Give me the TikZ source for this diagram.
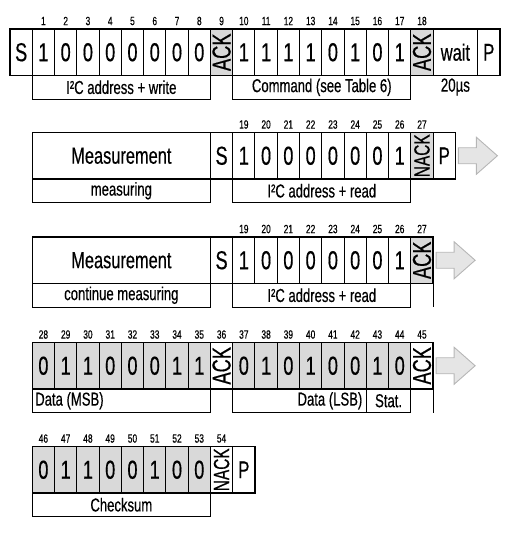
\documentclass[tikz,border=0pt]{standalone}
\usepackage{fontspec}
\setmainfont[FakeStretch=0.7, FakeBold=0.4]{Liberation Sans}

\definecolor{cellgray}{RGB}{217,217,217}
\definecolor{arrowfill}{RGB}{229,229,229}
\definecolor{arrowline}{RGB}{182,182,182}

\tikzset{
  cell/.style={draw, line width=1pt, minimum width=22.27pt, minimum height=46.5pt,
    anchor=north west, inner sep=0pt, outer sep=0pt, font=\fontsize{26}{26}\selectfont},
  shaded/.style={cell, fill=cellgray},
  bitnum/.style={inner sep=0pt, font=\fontsize{12}{12}\selectfont},
  field/.style={draw, line width=1pt, minimum height=23.5pt, minimum width=178.16pt,
    anchor=north west, inner sep=0pt, outer sep=0pt, font=\fontsize{18.7}{18.7}\selectfont},
  frame/.style={line width=1.5pt},
  flowarrow/.style={fill=arrowfill, draw=arrowline, line width=0.9pt}
}

\begin{document}
\begin{tikzpicture}[x=1pt, y=-1pt]
        \useasboundingbox (0,0) rectangle (530,539);
        % write: start, address, command
        \node [cell] (s1) at (10,29) {S};
        \foreach \d [count=\i] in {1,0,0,0,0,0,0,0}
          \node [cell] (a\i) at ({10+22.27*\i},29) {\d};
        \node [shaded] (a9) at (210.43,29) {\rotatebox{90}{ACK}};
        \foreach \d [count=\i from 10] in {1,1,1,1,0,1,0,1}
          \node [cell] (a\i) at ({10+22.27*\i},29) {\d};
        \node [shaded] (a18) at (410.86,29) {\rotatebox{90}{ACK}};
        \node [cell, minimum width=44.54pt, font=\fontsize{23.5}{23.5}\selectfont] (wait) at (433.13,29) {wait};
        \node [cell, font=\fontsize{24}{24}\selectfont] (p1) at (477.67,29) {P};
        \foreach \i in {1,...,18}
          \node [bitnum] (na\i) at ({21.135+22.27*\i},21) {\i};
        \draw [frame] (s1.north west) rectangle (p1.south east);
        \node [field] (addrw) at (a1.south west) {I²C address + write};
        \node [field] (cmd) at (a10.south west) {Command (see Table 6)};
        \node [font=\fontsize{19}{19}\selectfont] (dur) at (455.4,87) {20µs};

        % read header, NACK, stop
        \node [cell, minimum width=178.16pt, font=\fontsize{23.4}{23.4}\selectfont] (meas1) at (32.27,132.5) {Measurement};
        \node [cell] (s2) at (210.43,132.5) {S};
        \foreach \d [count=\i from 10] in {1,0,0,0,0,0,0,1}
          \node [cell] (b\i) at ({10+22.27*\i},132.5) {\d};
        \node [shaded, font=\fontsize{22}{22}\selectfont] (b18) at (410.86,132.5) {\rotatebox{90}{NACK}};
        \node [cell, font=\fontsize{24}{24}\selectfont] (p2) at (433.13,132.5) {P};
        \foreach \n [count=\i from 10] in {19,...,27}
          \node [bitnum] (nb\n) at ({21.135+22.27*\i},124.5) {\n};
        \draw [frame] (meas1.north west) rectangle (p2.south east);
        \node [field] (meas1lbl) at (meas1.south west) {measuring};
        \node [field] (addrr1) at (b10.south west) {I²C address + read};
        \filldraw [flowarrow] ([xshift=3pt]p2.east) ++(0,-8) -- ++(18,0) -- ++(0,-10.5)
          -- ++(21,18.5) -- ++(-21,18.5) -- ++(0,-10.5) -- ++(-18,0) -- cycle;

        % read header, ACK
        \node [cell, minimum width=178.16pt, font=\fontsize{23.4}{23.4}\selectfont] (meas2) at (32.27,237) {Measurement};
        \node [cell] (s3) at (210.43,237) {S};
        \foreach \d [count=\i from 10] in {1,0,0,0,0,0,0,1}
          \node [cell] (c\i) at ({10+22.27*\i},237) {\d};
        \node [shaded] (c18) at (410.86,237) {\rotatebox{90}{ACK}};
        \foreach \n [count=\i from 10] in {19,...,27}
          \node [bitnum] (nc\n) at ({21.135+22.27*\i},229) {\n};
        \draw [frame] (meas2.north west) rectangle (c18.south east);
        \node [field] (meas2lbl) at (meas2.south west) {continue measuring};
        \node [field] (addrr2) at (c10.south west) {I²C address + read};
        \draw [line width=1pt] (c18.south east) -- ++(0,23.5);
        \filldraw [flowarrow] ([xshift=3pt]c18.east) ++(0,-8) -- ++(18,0) -- ++(0,-10.5)
          -- ++(21,18.5) -- ++(-21,18.5) -- ++(0,-10.5) -- ++(-18,0) -- cycle;

        % data bytes
        \foreach \d [count=\i] in {0,1,1,0,0,0,1,1}
          \node [shaded] (d\i) at ({10+22.27*\i},342.5) {\d};
        \node [cell] (d9) at (210.43,342.5) {\rotatebox{90}{ACK}};
        \foreach \d [count=\i from 10] in {0,1,0,1,0,0,1,0}
          \node [shaded] (d\i) at ({10+22.27*\i},342.5) {\d};
        \node [cell] (d18) at (410.86,342.5) {\rotatebox{90}{ACK}};
        \foreach \n [count=\i] in {28,...,45}
          \node [bitnum] (nd\n) at ({21.135+22.27*\i},334.5) {\n};
        \draw [frame] (d1.north west) rectangle (d18.south east);
        \node [field, inner xsep=3pt] (msb) at (d1.south west) {\makebox[172.16pt][l]{Data (MSB)}};
        \node [field, minimum width=0pt, inner xsep=4pt] (lsb) at (d10.south west) {\makebox[125.62pt][r]{Data (LSB)}};
        \node [field, minimum width=44.54pt] (stat) at (d16.south west) {Stat.};
        \draw [line width=1pt] (d18.south east) -- ++(0,23.5);
        \filldraw [flowarrow] ([xshift=3pt]d18.east) ++(0,-8) -- ++(18,0) -- ++(0,-10.5)
          -- ++(21,18.5) -- ++(-21,18.5) -- ++(0,-10.5) -- ++(-18,0) -- cycle;

        % checksum
        \foreach \d [count=\i] in {0,1,1,0,0,1,0,0}
          \node [shaded] (e\i) at ({10+22.27*\i},446.5) {\d};
        \node [cell, font=\fontsize{22}{22}\selectfont] (e9) at (210.43,446.5) {\rotatebox{90}{NACK}};
        \node [cell, font=\fontsize{24}{24}\selectfont] (p3) at (232.7,446.5) {P};
        \foreach \n [count=\i] in {46,...,54}
          \node [bitnum] (ne\n) at ({21.135+22.27*\i},438.5) {\n};
        \draw [frame] (e1.north west) rectangle (p3.south east);
        \node [field] (crc) at (e1.south west) {Checksum};
\end{tikzpicture}
\end{document}
